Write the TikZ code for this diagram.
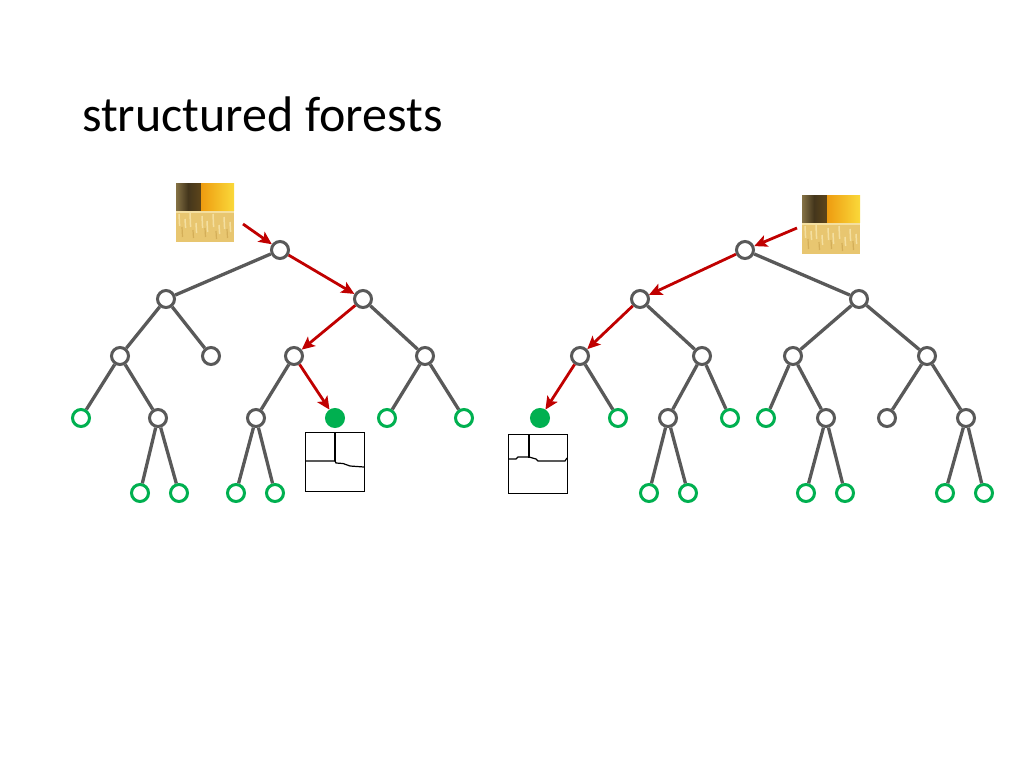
\documentclass[tikz,border=0pt]{standalone}
\usepackage{fontspec}
\setmainfont{Carlito}
\usetikzlibrary{arrows.meta}
\definecolor{mygray}{HTML}{595959}
\definecolor{mygreen}{HTML}{00B050}
\definecolor{myred}{HTML}{C00000}
\definecolor{sand}{HTML}{E8C670}
\definecolor{sandlight}{HTML}{F4DFA0}
\definecolor{sanddark}{HTML}{D4AE58}
\definecolor{patcholive}{HTML}{857245}
\definecolor{patchdark}{HTML}{44361C}
\definecolor{patchorange}{HTML}{EE9C10}
\definecolor{patchyellow}{HTML}{FAD93A}
\tikzset{
    splitnode/.style={circle, draw=mygray, fill=white, line width=3pt, minimum size=17pt, inner sep=0pt},
    leafnode/.style={circle, draw=mygreen, fill=white, line width=3pt, minimum size=17pt, inner sep=0pt},
    hitnode/.style={circle, draw=mygreen, fill=mygreen, line width=3pt, minimum size=17pt, inner sep=0pt},
    edge/.style={draw=mygray, line width=3.3pt},
    route/.style={-{Stealth[length=13pt,width=12pt,inset=3pt]}, draw=myred, line width=2.8pt},
    edgebox/.style={draw=black, line width=1pt, minimum size=59pt, inner sep=0pt}
}
\newcommand{\drawpatch}[2]{%
  \begin{scope}[shift={(#1,#2)}]
    \fill[sand] (0,27) rectangle (58,59);
    \shade[left color=patcholive, right color=patchdark] (0,0) rectangle (12,27);
    \shade[left color=patchdark, right color=patchdark!85!patchorange] (12,0) rectangle (25,27);
    \shade[left color=patchorange, right color=patchyellow] (25,0) rectangle (58,27);
    \foreach \dx/\dy/\dl in {3/31/12, 9/36/9, 14/30/14, 20/40/10, 26/33/12, 31/38/11, 37/31/13, 43/42/9, 48/34/12, 54/39/10} {
      \draw[sandlight, line width=1.5pt] (\dx,\dy) -- ++(0.6,\dl);
    }
    \foreach \dx/\dy/\dl in {6/44/10, 17/47/8, 29/45/9, 40/48/8, 51/46/9} {
      \draw[sanddark, line width=1.2pt] (\dx,\dy) -- ++(0.5,\dl);
    }
    \draw[sandlight, line width=2pt] (0,29) -- (58,29);
  \end{scope}}

\begin{document}
\begin{tikzpicture}[x=1pt,y=-1pt]
\useasboundingbox (0,0) rectangle (1024,768);

\node[anchor=base west, inner sep=0pt, font=\fontsize{50}{60}\selectfont] (title) at (82,131) {structured forests};

% left tree
\node[splitnode] at (280,250) (l00) {};

\node[splitnode] at (166,299) (l10) {};
\node[splitnode] at (363,299) (l11) {};

\node[splitnode] at (120,356) (l20) {};
\node[splitnode] at (211,356) (l21) {};
\node[splitnode] at (294,356) (l22) {};
\node[splitnode] at (425,356) (l23) {};

\node[leafnode] at (81,418) (l30) {};
\node[splitnode] at (158,418) (l31) {};
\node[splitnode] at (256,418) (l32) {};
\node[hitnode] at (335,418) (l33) {};
\node[leafnode] at (387,418) (l34) {};
\node[leafnode] at (464,418) (l35) {};

\node[leafnode] at (140,493) (l40) {};
\node[leafnode] at (179,493) (l41) {};
\node[leafnode] at (236,493) (l42) {};
\node[leafnode] at (275,493) (l43) {};

\draw[edge] (l00) -- (l10);
\draw[edge] (l10) -- (l20);
\draw[edge] (l10) -- (l21);
\draw[edge] (l11) -- (l23);
\draw[edge] (l20) -- (l30);
\draw[edge] (l20) -- (l31);
\draw[edge] (l22) -- (l32);
\draw[edge] (l23) -- (l34);
\draw[edge] (l23) -- (l35);
\draw[edge] (l31) -- (l40);
\draw[edge] (l31) -- (l41);
\draw[edge] (l32) -- (l42);
\draw[edge] (l32) -- (l43);

\drawpatch{176}{183}
\coordinate (lin) at (243,224);
\draw[route] (lin) -- (l00);
\draw[route] (l00) -- (l11);
\draw[route] (l11) -- (l22);
\draw[route] (l22) -- (l33);

\node[edgebox] at (335,461.5) (lbox) {};
\draw[line width=1.2pt] (335,432) -- (335,461);
\draw[line width=1.2pt] (306,461) -- (335,461) -- (336,463) -- (343,463.5) -- (350,466) -- (364,467);

% right tree
\node[splitnode] at (745,250) (r00) {};

\node[splitnode] at (640,299) (r10) {};
\node[splitnode] at (859,299) (r11) {};

\node[splitnode] at (580,356) (r20) {};
\node[splitnode] at (702,356) (r21) {};
\node[splitnode] at (793,356) (r22) {};
\node[splitnode] at (927,356) (r23) {};

\node[hitnode] at (540,418) (r30) {};
\node[leafnode] at (618,418) (r31) {};
\node[splitnode] at (668,418) (r32) {};
\node[leafnode] at (730,418) (r33) {};
\node[leafnode] at (766,418) (r34) {};
\node[splitnode] at (826,418) (r35) {};
\node[splitnode] at (887,418) (r36) {};
\node[splitnode] at (966,418) (r37) {};

\node[leafnode] at (649,493) (r40) {};
\node[leafnode] at (688,493) (r41) {};
\node[leafnode] at (806,493) (r42) {};
\node[leafnode] at (845,493) (r43) {};
\node[leafnode] at (945,493) (r44) {};
\node[leafnode] at (984,493) (r45) {};

\draw[edge] (r00) -- (r11);
\draw[edge] (r10) -- (r21);
\draw[edge] (r11) -- (r22);
\draw[edge] (r11) -- (r23);
\draw[edge] (r20) -- (r31);
\draw[edge] (r21) -- (r32);
\draw[edge] (r21) -- (r33);
\draw[edge] (r22) -- (r34);
\draw[edge] (r22) -- (r35);
\draw[edge] (r23) -- (r36);
\draw[edge] (r23) -- (r37);
\draw[edge] (r32) -- (r40);
\draw[edge] (r32) -- (r41);
\draw[edge] (r35) -- (r42);
\draw[edge] (r35) -- (r43);
\draw[edge] (r37) -- (r44);
\draw[edge] (r37) -- (r45);

\drawpatch{802}{195}
\coordinate (rin) at (797,228);
\draw[route] (rin) -- (r00);
\draw[route] (r00) -- (r10);
\draw[route] (r10) -- (r20);
\draw[route] (r20) -- (r30);

\node[edgebox] at (537.5,464) (rbox) {};
\draw[line width=1.2pt] (529,435) -- (529,458);
\draw[line width=1.2pt] (508,459) -- (516,459) -- (518,457) -- (529,457) -- (536,459) -- (538,461) -- (565,461) -- (567,458);
\end{tikzpicture}
\end{document}
